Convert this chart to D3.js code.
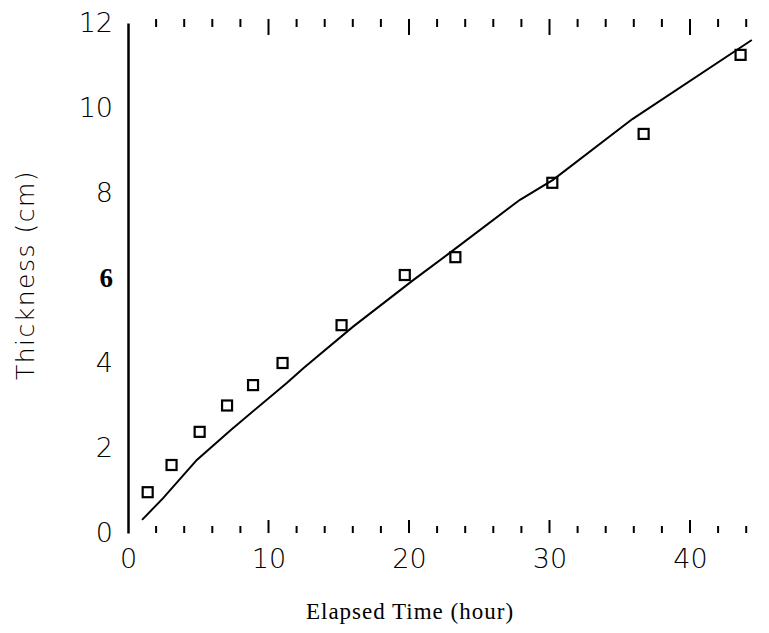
<!DOCTYPE html>
<html>
<head>
<meta charset="utf-8">
<script src="https://cdn.jsdelivr.net/npm/d3@7"></script>
<style>
  body { margin: 0; background: #fff; }
  svg { display: block; }
</style>
</head>
<body>
<svg></svg>
<script>
// measured points (hours, cm)
const timeObs  = [1.4, 3.1, 5.1, 7.05, 8.9, 11.0, 15.2, 19.7, 23.3, 30.2, 36.7, 43.6];
const thickObs = [0.96, 1.6, 2.38, 3.0, 3.48, 4.0, 4.89, 6.07, 6.49, 8.24, 9.39, 11.25];

// fitted curve
const fitTime  = [1.0, 2.5, 4.9, 7.3, 11.3, 12.5, 16.0, 20.3, 22.9, 27.9, 30.25, 35.9, 44.4];
const fitThick = [0.31, 0.82, 1.72, 2.42, 3.53, 3.88, 4.85, 5.95, 6.59, 7.84, 8.31, 9.74, 11.6];

const xTicks = [0, 10, 20, 30, 40];
const yTicks = [0, 2, 4, 6, 8, 10, 12];

const width = 769;
const height = 633;

const svg = d3.select('svg')
    .attr("width", width)
    .attr("height", height);

const x = d3.scaleLinear().domain([0, 40]).range([128, 690]);
const y = d3.scaleLinear().domain([0, 12]).range([533, 23]);

const numFont = "'DejaVu Sans', sans-serif";

// y axis with its line
const yAxis = svg.append("g")
    .attr("transform", `translate(${x(0)},0)`)
    .call(d3.axisLeft(y).tickValues(yTicks).tickSize(0).tickSizeOuter(0).tickPadding(15));
yAxis.select(".domain").attr("stroke", "#000").attr("stroke-width", 2.5);
yAxis.selectAll("text")
    .attr("font-family", d => d === 6 ? "'Liberation Serif', serif" : numFont)
    .attr("font-weight", d => d === 6 ? "bold" : 200)
    .attr("font-size", d => d === 6 ? 27 : 27)
    .attr("fill", "#000");

// x axis labels, no line
const xAxis = svg.append("g")
    .attr("transform", `translate(0,${y(0)})`)
    .call(d3.axisBottom(x).tickValues(xTicks).tickSize(0).tickPadding(16));
xAxis.select(".domain").remove();
xAxis.selectAll("text")
    .attr("font-family", numFont)
    .attr("font-weight", 200)
    .attr("font-size", 27)
    .attr("fill", "#000");

// tick marks every 2 hours, bottom and top
const minor = d3.range(2, 46, 2);
svg.append("g").selectAll("line")
    .data(minor)
    .join("line")
    .attr("x1", d => x(d)).attr("x2", d => x(d))
    .attr("y1", y(0))
    .attr("y2", d => y(0) - (d % 10 === 0 ? 13 : 7))
    .attr("stroke", "#000")
    .attr("stroke-width", 2);

svg.append("g").selectAll("line")
    .data(minor)
    .join("line")
    .attr("x1", d => x(d)).attr("x2", d => x(d))
    .attr("y1", 19)
    .attr("y2", d => 19 + (d % 10 === 0 ? 16 : 8))
    .attr("stroke", "#000")
    .attr("stroke-width", 2);

// fitted line
const line = d3.line()
    .x(d => x(d[0]))
    .y(d => y(d[1]));

svg.append("path")
    .datum(d3.zip(fitTime, fitThick))
    .attr("fill", "none")
    .attr("stroke", "#000")
    .attr("stroke-width", 2)
    .attr("d", line);

// open square markers
svg.append("g").selectAll("rect")
    .data(d3.zip(timeObs, thickObs))
    .join("rect")
    .attr("x", d => x(d[0]) - 5)
    .attr("y", d => y(d[1]) - 5)
    .attr("width", 10)
    .attr("height", 10)
    .attr("fill", "none")
    .attr("stroke", "#000")
    .attr("stroke-width", 2.2);

// axis titles
svg.append("text")
    .attr("x", 410)
    .attr("y", 619)
    .attr("text-anchor", "middle")
    .attr("font-family", "'Liberation Serif', serif")
    .attr("font-size", 23)
    .attr("letter-spacing", 1)
    .text("Elapsed Time (hour)");

svg.append("text")
    .attr("transform", "translate(34,275) rotate(-90)")
    .attr("text-anchor", "middle")
    .attr("font-family", numFont)
    .attr("font-weight", 200)
    .attr("font-size", 25)
    .attr("letter-spacing", 1.5)
    .text("Thickness (cm)");
</script>
</body>
</html>
